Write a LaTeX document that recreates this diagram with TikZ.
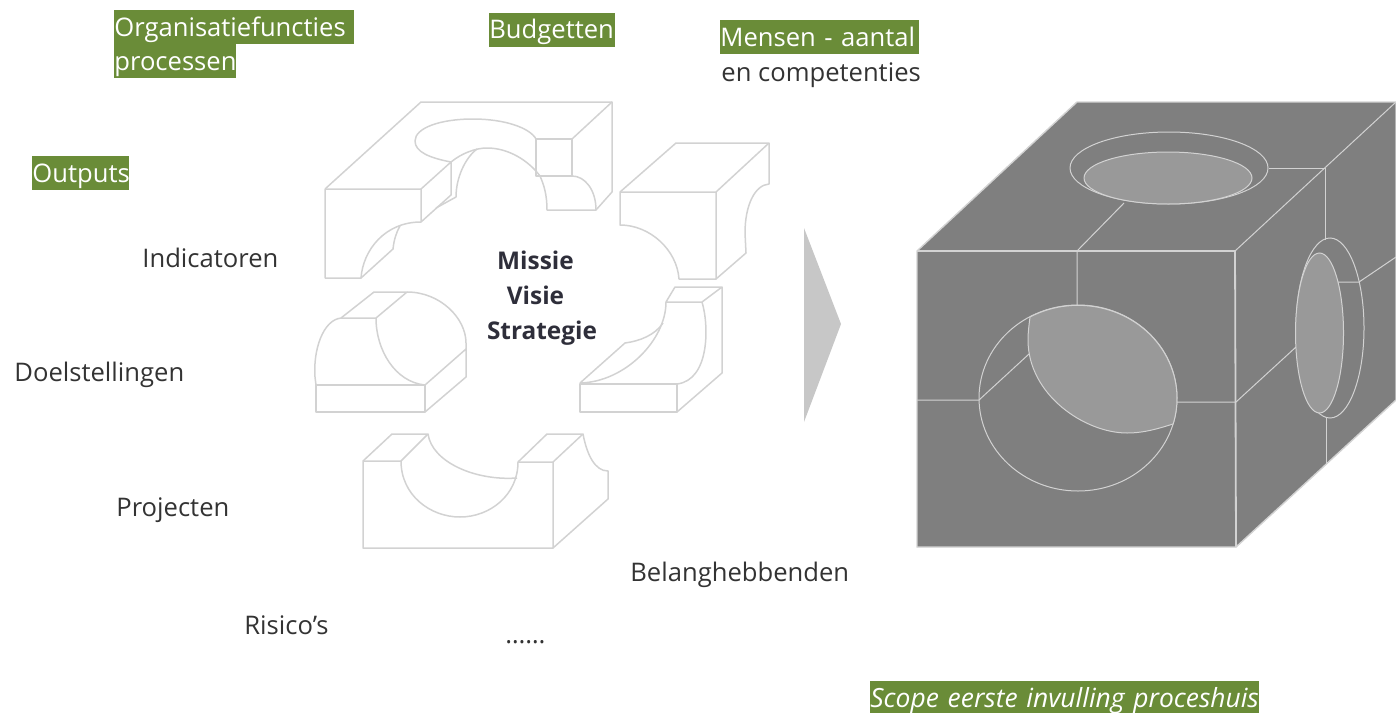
\documentclass[tikz,border=0pt]{standalone}
\usepackage{fontspec}
\setmainfont{Open Sans}
\definecolor{hlgreen}{HTML}{6A8C38}
\definecolor{wire}{HTML}{D2D2D2}
\definecolor{cubegray}{HTML}{7F7F7F}
\definecolor{lensgray}{HTML}{999999}
\definecolor{txtdark}{HTML}{2E2E3A}
\tikzset{
  wirepart/.style={draw=wire,line width=.75pt,line join=round},
  cubeline/.style={draw=wire,line width=.5pt},
  lbl/.style={anchor=west,inner sep=0pt,text height=11pt,text depth=2pt,font=\fontsize{12.8}{15}\selectfont,text=black!80},
  hl/.style={lbl,fill=hlgreen,text=white,minimum height=17pt,text height=12pt,text depth=3pt,text width=#1},
  core/.style={inner sep=0pt,text height=10pt,text depth=1pt,font=\fontsize{12.2}{15}\selectfont\bfseries,text=txtdark},
}
\begin{document}
\begin{tikzpicture}[x=.5pt,y=-.5pt]
\useasboundingbox (0,0) rectangle (1396,712);

% blocks on the left
\draw[wirepart] (325,189) -- (421,102) -- (612,102) -- (612,192) -- (596,210) -- (547,210)
  .. controls (547,195) and (544,185) .. (540,176) .. controls (528,160) and (508,148) .. (487,148)
  .. controls (476,148) and (462,153) .. (451,162);
\draw[wirepart] (451,162) .. controls (430,158) and (415,152) .. (415,141) .. controls (415,128) and (440,119) .. (473,119)
  .. controls (505,119) and (530,128) .. (536,139);
\draw[wirepart] (536,139) rectangle (572,176);
\draw[wirepart] (572,139) -- (612,102);
\draw[wirepart] (572,176) .. controls (585,176) and (596,190) .. (596,210);
\draw[wirepart] (325,189) -- (421,189) -- (421,222) -- (451,195) -- (451,162) -- (421,189);
\draw[wirepart] (325,189) -- (325,278) -- (361,278) .. controls (363,250) and (385,222) .. (421,222);
\draw[wirepart] (361,278) -- (393,249) .. controls (394,240) and (396,233) .. (400,226);
\draw[wirepart] (436,208) -- (456,197) .. controls (456,178) and (465,158) .. (477,149);

\draw[wirepart] (620,192) -- (716,192) -- (716,279) -- (679,279) .. controls (677,250) and (650,225) .. (620,225) -- cycle;
\draw[wirepart] (620,192) -- (676,143) -- (769,143) -- (716,192);
\draw[wirepart] (769,143) -- (769,184) .. controls (755,185) and (745,205) .. (745,233) -- (746,253) -- (716,279);

\draw[wirepart] (316,385) rectangle (425,412);
\draw[wirepart] (425,412) -- (466,377) -- (466,349) -- (425,385);
\draw[wirepart] (316,385) -- (315,377) .. controls (313,350) and (323,320) .. (341,318) -- (376,318)
  .. controls (376,350) and (395,382) .. (425,385);
\draw[wirepart] (341,318) -- (374,292) -- (407,292) -- (376,318);
\draw[wirepart] (407,292) .. controls (440,292) and (466,318) .. (466,343) -- (466,349);

\draw[wirepart] (580,384) rectangle (677,412);
\draw[wirepart] (677,412) -- (722,373) -- (722,287) -- (675,287) -- (666,302) -- (702,302) -- (722,287);
\draw[wirepart] (702,302) .. controls (709,325) and (710,380) .. (677,384);
\draw[wirepart] (666,302) .. controls (666,340) and (625,382) .. (580,383);
\draw[wirepart] (580,383) -- (625,343) .. controls (640,341) and (655,335) .. (663,323);

\draw[wirepart] (363,461) -- (401,461) .. controls (401,495) and (430,517) .. (460,517)
  .. controls (490,517) and (518,495) .. (518,462) -- (553,462) -- (553,548) -- (363,548) -- cycle;
\draw[wirepart] (363,461) -- (392,434) -- (428,434) -- (401,461);
\draw[wirepart] (428,434) .. controls (432,462) and (475,481) .. (517,478);
\draw[wirepart] (518,462) -- (547,434) -- (583,434) -- (553,462);
\draw[wirepart] (583,434) .. controls (587,455) and (595,471) .. (608,471) -- (608,499) -- (553,548);

% arrow between
\fill[wire!95!black] (804,228) -- (841,324) -- (804,422) -- cycle;

% big cube
\fill[cubegray,draw=wire,line width=.7pt] (917,251) -- (1077,102) -- (1396,102) -- (1396,400) -- (1236,547) -- (917,547) -- cycle;
\draw[cubeline,line width=.9pt] (917,251) -- (1235,251) -- (1236,547);
\draw[cubeline] (1235,251) -- (1396,102);
\draw[cubeline] (1169,168) ellipse [x radius=99,y radius=36];
\draw[cubeline,fill=lensgray] (1168,178) ellipse [x radius=84,y radius=26];
\draw[cubeline] (1269,168) -- (1325,168) -- (1325,240);
\draw[cubeline] (1124,203) -- (1077,251) -- (1077,305);
\draw[cubeline] (1330,328) ellipse [x radius=34,y radius=90];
\draw[cubeline,fill=lensgray] (1319.5,333) ellipse [x radius=24,y radius=80];
\draw[cubeline] (1338,282) -- (1359,282) -- (1396,257);
\draw[cubeline] (1296,347) -- (1236,402) -- (1177,402);
\draw[cubeline] (1326,418) -- (1326,464);
\draw[cubeline] (1078,398) ellipse [x radius=99,y radius=93];
\draw[cubeline,fill=lensgray] (1030,317) arc [start angle=-119,end angle=16,x radius=99,y radius=93]
  .. controls (1160,428) and (1145,433) .. (1127,433)
  .. controls (1085,433) and (1028,395) .. (1028,340) .. controls (1028,332) and (1029,325) .. (1030,317) -- cycle;
\draw[cubeline] (917,400) -- (979,400) -- (1029,354);

% labels
\node[hl=120pt] (lOrg) at (114,27) {Organisatiefuncties};
\node[hl=61pt] (lProc) at (114,61) {processen};
\node[hl=63pt] (lBudget) at (489,30) {Budgetten};
\node[hl=99.5pt] (lMensen) at (720,37) {Mensen - aantal};
\node[lbl] (lComp) at (721,72) {en competenties};
\node[hl=48.5pt] (lOutputs) at (32,173) {Outputs};
\node[lbl] (lInd) at (142,258) {Indicatoren};
\node[lbl] (lDoel) at (14,372) {Doelstellingen};
\node[lbl] (lProj) at (116,507) {Projecten};
\node[lbl] (lBelang) at (630,572) {Belanghebbenden};
\node[lbl] (lRisico) at (244,625) {Risico’s};
\node[lbl] (lDots) at (505,634) {……};
\node[hl=194.5pt,font=\fontsize{13.2}{15}\selectfont\itshape] (lScope) at (870,698) {Scope eerste invulling proceshuis};

\node[core] (lMissie) at (535.5,260) {Missie};
\node[core] (lVisie) at (535.5,295) {Visie};
\node[core] (lStrategie) at (542,330) {Strategie};
\end{tikzpicture}
\end{document}
